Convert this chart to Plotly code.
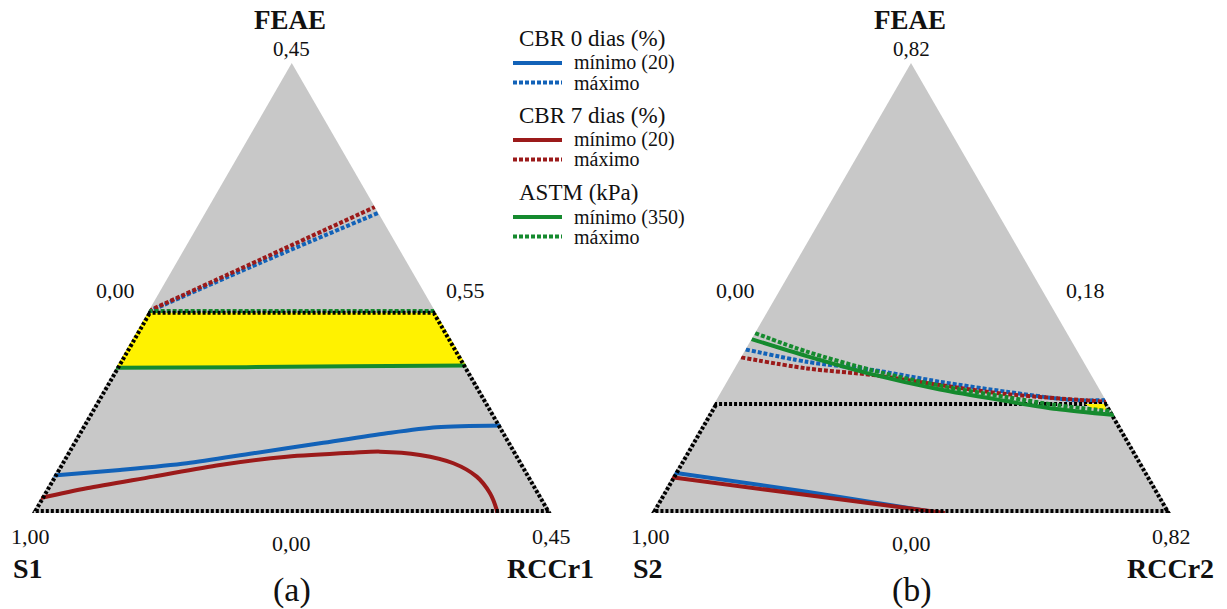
import plotly.graph_objects as go

# Palette
GRAY = "#c8c8c8"
BLUE = "#1262b8"
RED = "#9b1a1a"
GREEN = "#158a2e"
YELLOW = "#fff200"
BLACK = "#000000"

FONT = "Liberation Serif, Times New Roman, serif"

# ------------------------------------------------------------------
# Panel (a)  -  a: FEAE (top), b: S1 (left), c: RCCr1 (right)
# ------------------------------------------------------------------
# boundary of the studied region: sides lying on the triangle, plus the cap
trap_side_a_A = [0.445, 0.0, 0.0, 0.445]
trap_side_c_A = [0.0, 0.0, 1.0, 0.555]
trap_top_a_A = [0.445, 0.445]
trap_top_c_A = [0.0, 0.555]

feasible_a_A = [0.326, 0.445, 0.445, 0.328]
feasible_c_A = [0.0, 0.0, 0.555, 0.672]

cbr0_min_a_A = [0.083, 0.0956, 0.1105, 0.1327, 0.1549, 0.1772, 0.1905, 0.1945]
cbr0_min_c_A = [0.0, 0.1216, 0.2426, 0.3597, 0.4769, 0.5942, 0.6838, 0.8055]

cbr0_max_a_A = [0.447, 0.557, 0.667]
cbr0_max_c_A = [0.0, 0.163, 0.333]

cbr7_min_a_A = [0.0333, 0.0549, 0.0807, 0.1067, 0.1251, 0.1340, 0.1363, 0.1289,
                0.1105, 0.0807, 0.0438, 0.0067, 0.0]
cbr7_min_c_A = [0.0, 0.0778, 0.1932, 0.3086, 0.4277, 0.5515, 0.6018, 0.6824,
                0.7558, 0.8157, 0.8597, 0.8912, 0.8957]

cbr7_max_a_A = [0.449, 0.564, 0.680]
cbr7_max_c_A = [0.0, 0.159, 0.320]

astm_min_a_A = [0.323, 0.324, 0.326, 0.327, 0.328]
astm_min_c_A = [0.0, 0.25, 0.45, 0.60, 0.672]

astm_max_a_A = [0.449, 0.449]
astm_max_c_A = [0.0, 0.551]

# ------------------------------------------------------------------
# Panel (b)  -  a: FEAE (top), b: S2 (left), c: RCCr2 (right)
# ------------------------------------------------------------------
trap_side_a_B = [0.242, 0.0, 0.0, 0.242]
trap_side_c_B = [0.0, 0.0, 1.0, 0.758]
trap_top_a_B = [0.242, 0.242]
trap_top_c_B = [0.0, 0.758]

feasible_a_B = [0.2421, 0.2421, 0.2287, 0.2332]
feasible_c_B = [0.7136, 0.7502, 0.7625, 0.7315]

cbr0_min_a_B = [0.0895, 0.0473, 0.0]
cbr0_min_c_B = [0.0, 0.2757, 0.5558]

cbr0_max_a_B = [0.3635, 0.3360, 0.3176, 0.2916, 0.2694, 0.2509, 0.2510]
cbr0_max_c_B = [0.0, 0.1314, 0.2687, 0.4100, 0.5493, 0.6866, 0.7490]

cbr7_min_a_B = [0.0793, 0.0400, 0.0]
cbr7_min_c_B = [0.0, 0.2794, 0.5654]

cbr7_max_a_B = [0.3458, 0.3213, 0.3065, 0.2843, 0.2643, 0.2472]
cbr7_max_c_B = [0.0, 0.1387, 0.2743, 0.4137, 0.5519, 0.7528]

astm_min_a_B = [0.3864, 0.3487, 0.3076, 0.2743, 0.2487, 0.2310, 0.2176]
astm_min_c_B = [0.0, 0.1251, 0.2737, 0.4187, 0.5596, 0.6647, 0.7824]

astm_max_a_B = [0.3997, 0.3587, 0.3165, 0.2831, 0.2576, 0.2398, 0.2260]
astm_max_c_B = [0.0, 0.1201, 0.2693, 0.4142, 0.5552, 0.6603, 0.7740]

# Legend entries
legend_groups = ["CBR 0 dias (%)", "CBR 7 dias (%)", "ASTM (kPa)"]
legend_colors = [BLUE, RED, GREEN]
legend_min = ["mínimo (20)", "mínimo (20)", "mínimo (350)"]
legend_max = ["máximo", "máximo", "máximo"]

DOT = "4px,2px"
TRAP_DOT = "3px,2px"
LW = 4


def b_of(a, c):
    return [1.0 - x - y for x, y in zip(a, c)]


def line(sub, a, c, color, dash="solid", width=LW, smooth=False):
    return go.Scatterternary(
        subplot=sub, a=a, b=b_of(a, c), c=c, mode="lines",
        line=dict(color=color, width=width, dash=dash,
                  shape="spline" if smooth else "linear",
                  smoothing=0.8 if smooth else None),
        hoverinfo="skip", showlegend=False,
    )


def fill(sub, a, c, color):
    return go.Scatterternary(
        subplot=sub, a=a, b=b_of(a, c), c=c, mode="none",
        fill="toself", fillcolor=color,
        hoverinfo="skip", showlegend=False,
    )


fig = go.Figure()

# panel (a)
fig.add_trace(fill("ternary", feasible_a_A, feasible_c_A, YELLOW))
fig.add_trace(line("ternary", cbr0_min_a_A, cbr0_min_c_A, BLUE, smooth=True))
fig.add_trace(line("ternary", cbr7_min_a_A, cbr7_min_c_A, RED, smooth=True))
fig.add_trace(line("ternary", astm_min_a_A, astm_min_c_A, GREEN))
fig.add_trace(line("ternary", cbr0_max_a_A, cbr0_max_c_A, BLUE, DOT, smooth=True))
fig.add_trace(line("ternary", cbr7_max_a_A, cbr7_max_c_A, RED, DOT, smooth=True))
fig.add_trace(line("ternary", astm_max_a_A, astm_max_c_A, GREEN, DOT))
# sides sit on the clipped triangle border, so they are drawn twice as wide
fig.add_trace(line("ternary", trap_side_a_A, trap_side_c_A, BLACK, TRAP_DOT, 8))
fig.add_trace(line("ternary", trap_top_a_A, trap_top_c_A, BLACK, TRAP_DOT))

# panel (b)
fig.add_trace(line("ternary2", cbr0_min_a_B, cbr0_min_c_B, BLUE, smooth=True))
fig.add_trace(line("ternary2", cbr7_min_a_B, cbr7_min_c_B, RED, smooth=True))
fig.add_trace(line("ternary2", cbr0_max_a_B, cbr0_max_c_B, BLUE, DOT, smooth=True))
fig.add_trace(line("ternary2", cbr7_max_a_B, cbr7_max_c_B, RED, DOT, smooth=True))
fig.add_trace(line("ternary2", trap_side_a_B, trap_side_c_B, BLACK, TRAP_DOT, 8))
fig.add_trace(line("ternary2", trap_top_a_B, trap_top_c_B, BLACK, TRAP_DOT))
fig.add_trace(fill("ternary2", feasible_a_B, feasible_c_B, YELLOW))
fig.add_trace(line("ternary2", astm_min_a_B, astm_min_c_B, GREEN, smooth=True))
fig.add_trace(line("ternary2", astm_max_a_B, astm_max_c_B, GREEN, DOT, smooth=True))

W, H = 1227, 609


def px(x):
    return x / W


def py(y):
    return 1 - y / H


hidden_axis = dict(showline=False, showgrid=False, showticklabels=False,
                   ticks="", title=dict(text=""))


def tern_layout(x0, x1):
    return dict(
        domain=dict(x=[px(x0), px(x1)], y=[py(513), py(63)]),
        bgcolor=GRAY, sum=1,
        aaxis=hidden_axis, baxis=hidden_axis, caxis=hidden_axis,
    )


annotations = []


def label(text, x, y, size, bold=False, anchor="center"):
    annotations.append(dict(
        text=f"<b>{text}</b>" if bold else text,
        x=px(x), y=py(y), xref="paper", yref="paper",
        xanchor=anchor, yanchor="middle", showarrow=False,
        font=dict(family=FONT, size=size, color="#111111"),
    ))


# corner and edge values / component names
panels = [
    (0, "S1", "RCCr1", "0,45", "0,55", "0,45", "(a)"),
    (620, "S2", "RCCr2", "0,82", "0,18", "0,82", "(b)"),
]
for dx, left_name, right_name, top_val, mid_val, right_val, tag in panels:
    label("FEAE", 290 + dx, 20, 27, bold=True)
    label(top_val, 291 + dx, 49, 21)
    label("0,00", 115 + dx, 290, 22)
    label(mid_val, 465 + dx, 290, 22)
    label("1,00", 31 + dx, 536, 22)
    label("0,00", 291 + dx, 543, 22)
    label(right_val, 551 + dx, 536, 22)
    label(left_name, 28 + dx, 568, 28, bold=True)
    label(right_name, 550 + dx, 568, 28, bold=True)
    label(tag, 292 + dx, 590, 34)

# legend block
shapes = []
group_y = [38, 115, 192]
for gy, title, col, tmin, tmax in zip(group_y, legend_groups, legend_colors,
                                       legend_min, legend_max):
    label(title, 517, gy, 23, anchor="left")
    for k, (txt, dash) in enumerate([(tmin, "solid"), (tmax, DOT)]):
        yy = gy + 25 + 19.5 * k
        shapes.append(dict(type="line", xref="paper", yref="paper",
                           x0=px(513), x1=px(562), y0=py(yy), y1=py(yy),
                           line=dict(color=col, width=LW, dash=dash)))
        label(txt, 572, yy, 20, anchor="left")

fig.update_layout(
    width=W, height=H,
    margin=dict(l=0, r=0, t=0, b=0),
    paper_bgcolor="white", plot_bgcolor="white",
    ternary=tern_layout(32, 551.5),
    ternary2=tern_layout(651, 1171),
    annotations=annotations,
    shapes=shapes,
    showlegend=False,
)

fig.write_html("out.html")
